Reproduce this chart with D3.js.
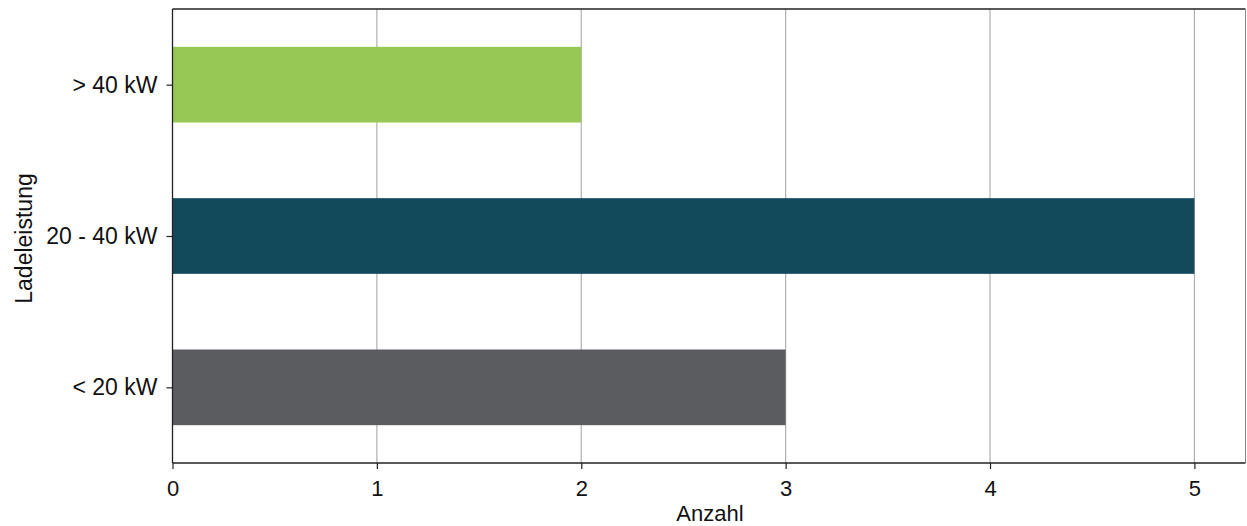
<!DOCTYPE html>
<html><head><meta charset="utf-8">
<script src="https://cdn.jsdelivr.net/npm/d3@7"></script>
<style>body{margin:0;background:#fff}svg{display:block}text{font-family:"Liberation Sans",Arial,sans-serif}</style>
</head><body>
<svg id="c" width="1247" height="526"></svg>
<script>
const categories = ["< 20 kW", "20 - 40 kW", "> 40 kW"];
const values = [3, 5, 2];
const colors = ["#5b5c60", "#124a5c", "#97c755"];
const xTicks = [0, 1, 2, 3, 4, 5];
const xLabel = "Anzahl";
const yLabel = "Ladeleistung";

const svg = d3.select("#c");
const m = {left: 172.5, right: 1245.5, top: 9, bottom: 463};
const x = d3.scaleLinear().domain([0, 5.25]).range([m.left, m.right]);
const y = d3.scaleLinear().domain([-0.5, 2.5]).range([m.bottom, m.top]);
const bh = 0.5;

// grid
svg.append("g").selectAll("line").data(xTicks.filter(d => d > 0)).join("line")
  .attr("x1", d => x(d)).attr("x2", d => x(d)).attr("y1", m.top).attr("y2", m.bottom)
  .attr("stroke", "#b0b0b0").attr("stroke-width", 1.2);

// bars
svg.append("g").selectAll("rect").data(values).join("rect")
  .attr("x", x(0)).attr("y", (d, i) => y(i + bh / 2))
  .attr("width", d => x(d) - x(0)).attr("height", (d, i) => y(i - bh / 2) - y(i + bh / 2))
  .attr("fill", (d, i) => colors[i]);

// frame
svg.append("line").attr("x1", m.left).attr("x2", m.right).attr("y1", m.top).attr("y2", m.top).attr("stroke", "#222").attr("stroke-width", 1.3);
svg.append("line").attr("x1", m.right).attr("x2", m.right).attr("y1", m.top).attr("y2", m.bottom).attr("stroke", "#888").attr("stroke-width", 1);

// axes
const xa = svg.append("g").attr("transform", `translate(0,${m.bottom})`)
  .call(d3.axisBottom(x).tickValues(xTicks).tickFormat(d3.format("d")).tickSize(6).tickPadding(11).tickSizeOuter(0));
const ya = svg.append("g").attr("transform", `translate(${m.left},0)`)
  .call(d3.axisLeft(y).tickValues([0, 1, 2]).tickFormat(i => categories[i]).tickSize(6).tickPadding(9).tickSizeOuter(0));
[xa, ya].forEach(a => {
  a.select(".domain").attr("stroke", "#222").attr("stroke-width", 1.3);
  a.selectAll(".tick line").attr("stroke", "#222").attr("stroke-width", 1.2);
  a.selectAll("text").attr("fill", "#111").attr("font-family", "Liberation Sans, Arial, sans-serif");
});
xa.selectAll("text").attr("font-size", 22);
ya.selectAll("text").attr("font-size", 23);
xa.select(".domain").attr("d", `M${m.left},0H${m.right}`);
ya.select(".domain").attr("d", `M0,${m.top}V${m.bottom}`);

svg.append("text").attr("x", (m.left + m.right) / 2 + 1).attr("y", 521).attr("text-anchor", "middle")
  .attr("font-size", 22).attr("fill", "#111").text(xLabel);
svg.append("text").attr("transform", `translate(32,238.5) rotate(-90)`).attr("text-anchor", "middle")
  .attr("font-size", 23).attr("fill", "#111").text(yLabel);
</script>
</body></html>
